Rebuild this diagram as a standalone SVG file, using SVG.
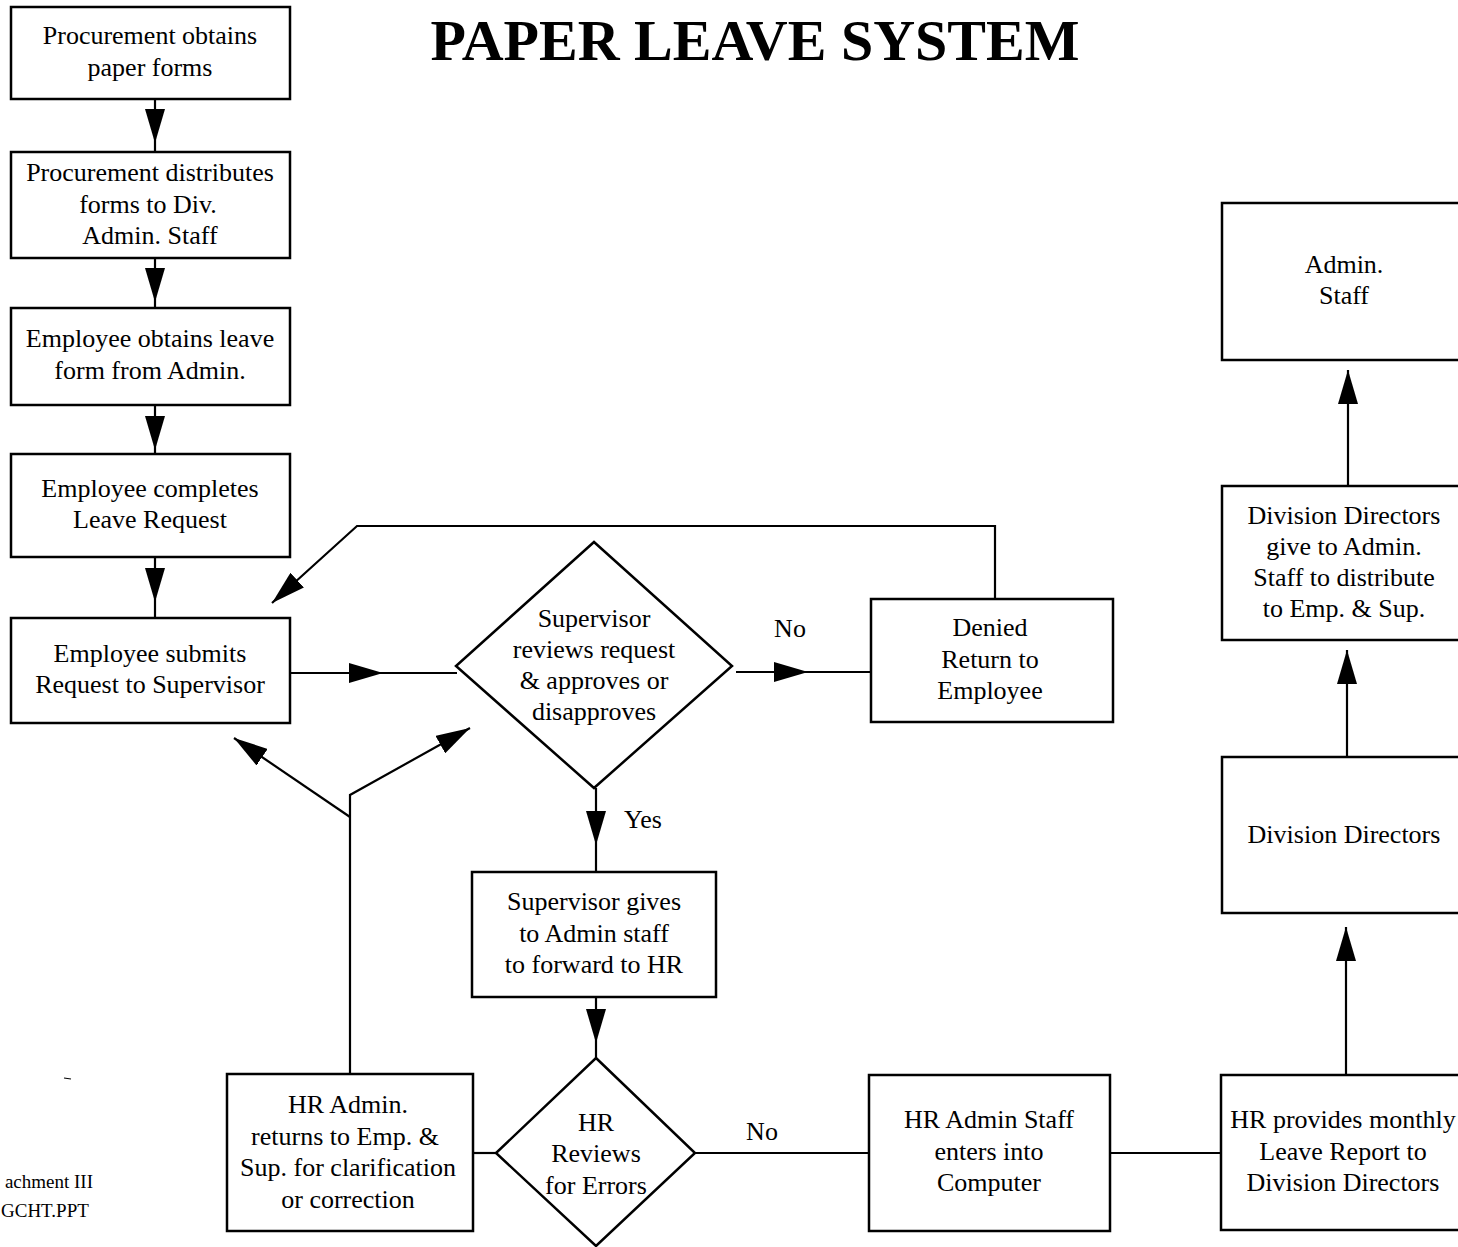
<svg xmlns="http://www.w3.org/2000/svg" width="1458" height="1247" viewBox="0 0 1458 1247">
<style>
.box{fill:#fff;stroke:#000;stroke-width:2.5}
.ln{fill:none;stroke:#000;stroke-width:2.2}
text{font-family:"Liberation Serif","Times New Roman",serif;font-size:26px;fill:#000}
.c{text-anchor:middle}
.title{font-size:58px;font-weight:bold;text-anchor:middle}
.small{font-size:19px}
</style>
<defs>
<marker id="ah" viewBox="0 0 34 20" refX="34" refY="10" markerWidth="34" markerHeight="20" markerUnits="userSpaceOnUse" orient="auto">
<path d="M0,0 L34,10 L0,20 z" fill="#000"/>
</marker>
</defs>
<rect width="1458" height="1247" fill="#fff"/>
<text class="title" x="755" y="60">PAPER LEAVE SYSTEM</text>

<g id="connectors">
<path class="ln" d="M155,99 L155,143 L155,152" marker-mid="url(#ah)"/>
<path class="ln" d="M155,258 L155,302 L155,307" marker-mid="url(#ah)"/>
<path class="ln" d="M155,405 L155,450 L155,453" marker-mid="url(#ah)"/>
<path class="ln" d="M155,557 L155,602 L155,618" marker-mid="url(#ah)"/>
<path class="ln" d="M290,673 L383,673 L457,673" marker-mid="url(#ah)"/>
<path class="ln" d="M736,672 L808,672 L871,672" marker-mid="url(#ah)"/>
<path class="ln" d="M995,598 L995,526 L357,526 L272,603" marker-end="url(#ah)"/>
<path class="ln" d="M596,788 L596,845 L596,872" marker-mid="url(#ah)"/>
<path class="ln" d="M596,997 L596,1043 L596,1058" marker-mid="url(#ah)"/>
<path class="ln" d="M496,1153 L473,1153"/>
<path class="ln" d="M350,1073 L350,795 L470,728" marker-end="url(#ah)"/>
<path class="ln" d="M350,817 L234,738" marker-end="url(#ah)"/>
<path class="ln" d="M695,1153 L869,1153"/>
<path class="ln" d="M1110,1153 L1221,1153"/>
<path class="ln" d="M1346,1075 L1346,927" marker-end="url(#ah)"/>
<path class="ln" d="M1347,757 L1347,650" marker-end="url(#ah)"/>
<path class="ln" d="M1348,486 L1348,370" marker-end="url(#ah)"/>
</g>

<g id="n1"><rect class="box" x="11" y="7" width="279" height="92"/>
<text class="c" x="150" y="44">Procurement obtains</text><text class="c" x="150" y="76">paper forms</text></g>
<g id="n2"><rect class="box" x="11" y="152" width="279" height="106"/>
<text class="c" x="150" y="181">Procurement distributes</text><text class="c" x="148" y="213">forms to Div.</text><text class="c" x="150" y="244">Admin. Staff</text></g>
<g id="n3"><rect class="box" x="11" y="308" width="279" height="97"/>
<text class="c" x="150" y="347">Employee obtains leave</text><text class="c" x="150" y="379">form from Admin.</text></g>
<g id="n4"><rect class="box" x="11" y="454" width="279" height="103"/>
<text class="c" x="150" y="497">Employee completes</text><text class="c" x="150" y="528">Leave Request</text></g>
<g id="n5"><rect class="box" x="11" y="618" width="279" height="105"/>
<text class="c" x="150" y="662">Employee submits</text><text class="c" x="150" y="693">Request to Supervisor</text></g>

<g id="d1"><polygon class="box" points="594,542 732,666 594,788 456,666"/>
<text class="c" x="594" y="627">Supervisor</text><text class="c" x="594" y="658">reviews request</text><text class="c" x="594" y="689">&amp; approves or</text><text class="c" x="594" y="720">disapproves</text></g>
<text class="c" x="790" y="637">No</text>
<text class="c" x="643" y="828">Yes</text>

<g id="n6"><rect class="box" x="871" y="599" width="242" height="123"/>
<text class="c" x="990" y="636">Denied</text><text class="c" x="990" y="668">Return to</text><text class="c" x="990" y="699">Employee</text></g>

<g id="n7"><rect class="box" x="472" y="872" width="244" height="125"/>
<text class="c" x="594" y="910">Supervisor gives</text><text class="c" x="594" y="942">to Admin staff</text><text class="c" x="594" y="973">to forward to HR</text></g>

<g id="d2"><polygon class="box" points="596,1058 695,1153 596,1246 496,1153"/>
<text class="c" x="596" y="1131">HR</text><text class="c" x="596" y="1162">Reviews</text><text class="c" x="596" y="1194">for Errors</text></g>
<text class="c" x="762" y="1140">No</text>

<g id="n8"><rect class="box" x="227" y="1074" width="246" height="157"/>
<text class="c" x="348" y="1113">HR Admin.</text><text class="c" x="345" y="1145">returns to Emp. &amp;</text><text class="c" x="348" y="1176">Sup. for clarification</text><text class="c" x="348" y="1208">or correction</text></g>

<g id="n9"><rect class="box" x="869" y="1075" width="241" height="156"/>
<text class="c" x="989" y="1128">HR Admin Staff</text><text class="c" x="989" y="1160">enters into</text><text class="c" x="989" y="1191">Computer</text></g>

<g id="n10"><rect class="box" x="1221" y="1075" width="250" height="155"/>
<text class="c" x="1343" y="1128">HR provides monthly</text><text class="c" x="1343" y="1160">Leave Report to</text><text class="c" x="1343" y="1191">Division Directors</text></g>

<g id="n11"><rect class="box" x="1222" y="757" width="250" height="156"/>
<text class="c" x="1344" y="843">Division Directors</text></g>

<g id="n12"><rect class="box" x="1222" y="486" width="250" height="154"/>
<text class="c" x="1344" y="524">Division Directors</text><text class="c" x="1344" y="555">give to Admin.</text><text class="c" x="1344" y="586">Staff to distribute</text><text class="c" x="1344" y="617">to Emp. &amp; Sup.</text></g>

<g id="n13"><rect class="box" x="1222" y="203" width="250" height="157"/>
<text class="c" x="1344" y="273">Admin.</text><text class="c" x="1344" y="304">Staff</text></g>

<line x1="64" y1="1078" x2="71" y2="1079" stroke="#000" stroke-width="1.2"/>
<text class="small" x="93" y="1188" text-anchor="end">achment III</text>
<text class="small" x="1" y="1217">GCHT.PPT</text>
</svg>
